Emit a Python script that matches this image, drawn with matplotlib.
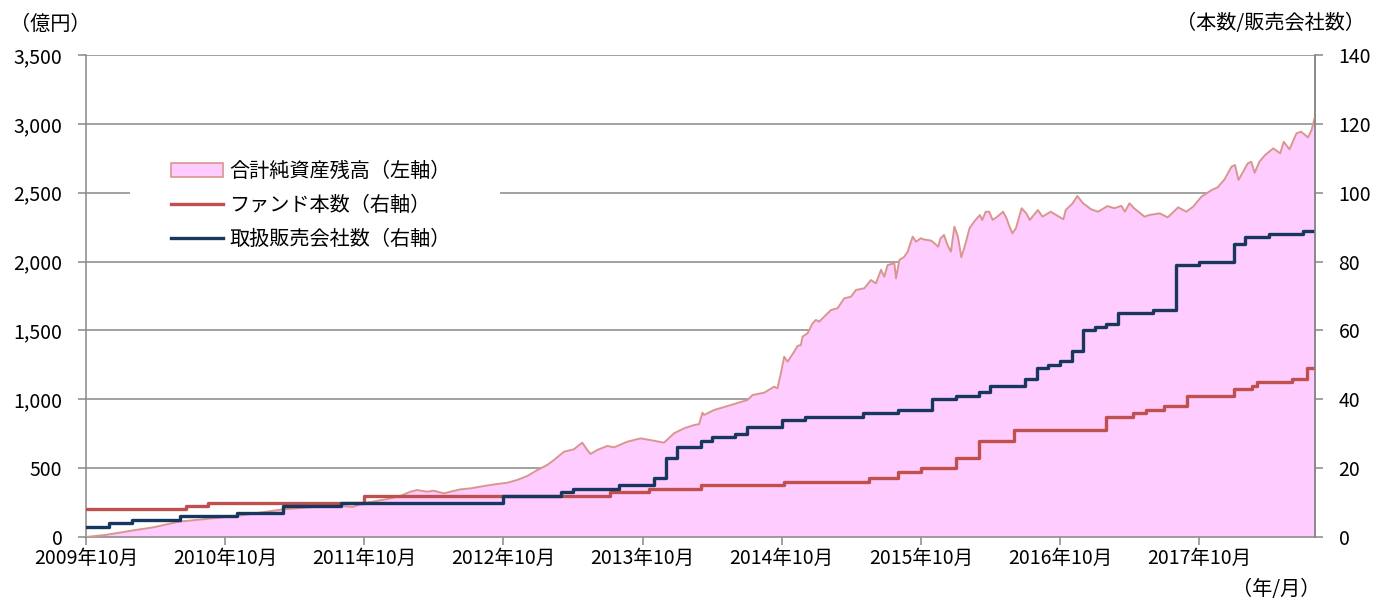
import matplotlib
matplotlib.use("Agg")
import matplotlib.pyplot as plt
from matplotlib.patches import Patch, Rectangle
from matplotlib.lines import Line2D
import numpy as np

plt.rcParams['font.family'] = ['Noto Sans CJK JP', 'DejaVu Sans']

# months counted from 2009年10月
nav_month = [0, 1.7, 4.3, 5.8, 8, 10, 13, 17, 20, 21.8, 23, 23.9, 25.9,
             27.12, 27.98, 28.55, 29.42, 29.99, 30.86, 31.43, 32.3, 33.16, 34.31,
             35.46, 36.33, 37.19, 38.06, 38.92, 39.78, 40.36, 41.22, 42.08, 42.8,
             43.23, 43.52, 44.1, 44.96, 45.54, 46.69, 47.84, 48.99, 49.85, 50.72,
             51.58, 52.45, 52.88, 53.17, 53.31, 54.17, 55.61, 57.05, 57.49, 58.49,
             59.35, 59.64, 59.93, 60.22, 60.51, 61.08, 61.37, 61.66, 61.8, 62.23,
             62.67, 62.95, 63.24, 63.67, 64.25, 64.82, 65.4, 65.98, 66.41, 67.13,
             67.7, 68.13, 68.57, 68.85, 69.14, 69.72, 69.86, 70.15, 70.58, 70.87,
             71.3, 71.59, 72.0, 72.3, 72.9, 73.17, 73.5, 73.7, 74.0, 74.3, 74.6,
             74.9, 75.2, 75.5, 75.9, 76.2, 76.6, 77.1, 77.3, 77.6, 77.9, 78.2,
             78.6, 79.1, 79.4, 79.6, 79.9, 80.2, 80.7, 81.1, 81.4, 82.1, 82.5,
             83.2, 84.3, 84.5, 85.1, 85.5, 86.0, 86.7, 87.3, 88.1, 88.7, 89.3,
             89.6, 90.0, 90.4, 91.3, 91.7, 92.6, 93.3, 93.8, 94.2, 94.9, 95.5,
             96.2, 97.1, 97.6, 98.2, 98.8, 99.1, 99.4, 99.8, 100.2, 100.5, 100.8,
             101.2, 101.7, 102.4, 103.0, 103.3, 103.8, 104.4, 104.8, 105.4, 105.7,
             106.0]
nav_value = [0, 15, 51, 70, 111, 128, 152, 201, 220, 227, 218, 245, 274,
             298, 329, 341, 329, 336, 317, 329, 346, 353, 370,
             385, 394, 414, 443, 486, 523, 559, 619, 637, 685,
             632, 603, 632, 661, 651, 692, 716, 699, 685, 753,
             789, 813, 820, 903, 886, 922, 958, 995, 1031, 1048,
             1091, 1080, 1189, 1309, 1273, 1346, 1387, 1394, 1455, 1479,
             1552, 1576, 1564, 1600, 1648, 1661, 1733, 1745, 1794, 1806,
             1866, 1842, 1940, 1890, 1975, 1987, 1878, 2011, 2035, 2072,
             2181, 2144, 2169, 2160, 2152, 2133, 2108, 2169, 2193, 2120, 2072,
             2253, 2181, 2031, 2144, 2241, 2290, 2338, 2302, 2362, 2362, 2302,
             2326, 2362, 2314, 2265, 2205, 2241, 2387, 2350, 2302, 2374, 2326,
             2362, 2307, 2374, 2423, 2476, 2423, 2379, 2362, 2403, 2387, 2405,
             2362, 2423, 2387, 2326, 2338, 2350, 2321, 2362, 2394, 2362, 2399,
             2471, 2520, 2539, 2597, 2689, 2701, 2592, 2652, 2713, 2725, 2645,
             2725, 2774, 2822, 2786, 2870, 2815, 2931, 2943, 2902, 2955,
             3052]

fund_month = [0, 8.6, 10.5, 24, 45.2, 48.6, 53, 60.2, 67.5, 70, 72, 75, 77, 80, 88,
              90.3, 91.4, 93, 95, 99, 100.6, 101, 104, 105.3, 106]
fund_count = [8, 9, 10, 12, 13, 14, 15, 16, 17, 19, 20, 23, 28, 31, 35,
              36, 37, 38, 41, 43, 44, 45, 46, 49, 49]

dist_month = [0, 2, 4, 8.1, 13, 17, 22, 36, 41, 42, 46, 49, 50, 51, 53, 54, 56, 57,
              60, 62, 67, 70, 73, 75, 77, 78, 81, 82, 83, 84, 85, 86, 87, 88, 89,
              92, 94, 96, 99, 100, 102, 105, 106]
dist_count = [3, 4, 5, 6, 7, 9, 10, 12, 13, 14, 15, 17, 23, 26, 28, 29, 30, 32,
              34, 35, 36, 37, 40, 41, 42, 44, 46, 49, 50, 51, 54, 60, 61, 62, 65,
              66, 79, 80, 85, 87, 88, 89, 89]

tick_month = [0, 12, 24, 36, 48, 60, 72, 84, 96]
tick_label = ['2009年10月', '2010年10月', '2011年10月', '2012年10月', '2013年10月',
              '2014年10月', '2015年10月', '2016年10月', '2017年10月']

legend_labels = ['合計純資産残高（左軸）', 'ファンド本数（右軸）', '取扱販売会社数（右軸）']

pink = '#FFCCFF'
pink_edge = '#D9968F'
red = '#C0504D'
navy = '#17375E'
gray = '#878787'

fig = plt.figure(figsize=(13.74, 5.99), dpi=100)
ax = fig.add_axes([86/1374, 1-537/599, (1315-86)/1374, (537-55)/599])
ax2 = ax.twinx()

ax.fill_between(nav_month, nav_value, 0, color=pink, lw=0, zorder=2)
ax.plot(nav_month, nav_value, color=pink_edge, lw=1.4, zorder=3)

ax2.step(fund_month, fund_count, where='post', color=red, lw=2.4)
ax2.step(dist_month, dist_count, where='post', color=navy, lw=2.4)

ax.set_xlim(0, 106)
ax.set_ylim(0, 3500)
ax2.set_ylim(0, 140)
ax.set_yticks(np.arange(0, 3501, 500))
ax.set_yticklabels([f'{v:,}' for v in range(0, 3501, 500)])
ax2.set_yticks(np.arange(0, 141, 20))
ax.set_xticks(tick_month)
ax.set_xticklabels(tick_label)

ax.set_axisbelow(True)
ax.grid(axis='y', color=gray, lw=1.1)
for a in (ax, ax2):
    for s in a.spines.values():
        s.set_color(gray)
        s.set_linewidth(1.1)
    a.spines['top'].set_visible(False)
ax2.spines['left'].set_visible(False)
ax2.spines['bottom'].set_visible(False)

ax.tick_params(axis='y', length=6, width=1.1, color=gray, pad=11, labelsize=14)
ax.tick_params(axis='x', length=6, width=1.1, color=gray, pad=2, labelsize=14)
ax2.tick_params(axis='y', length=6, width=1.1, color=gray, pad=11, labelsize=14)

# white box behind the legend
ax.add_patch(Rectangle((0.0358, 0.6), 0.301, 0.2, transform=ax.transAxes,
                       facecolor='white', edgecolor='none', zorder=1))

handles = [Patch(facecolor=pink, edgecolor=pink_edge, lw=1.2),
           Line2D([], [], color=red, lw=2.4),
           Line2D([], [], color=navy, lw=2.4)]
ax.legend(handles, legend_labels, loc='upper left', bbox_to_anchor=(0.069, 0.78),
          frameon=False, borderpad=0, borderaxespad=0, fontsize=14.5,
          handlelength=2.6, handletextpad=0.3, labelspacing=0.65)

fig.text(10/1374, 1-24/599, '（億円）', fontsize=14.5, va='center', ha='left')
fig.text(1365/1374, 1-24/599, '（本数/販売会社数）', fontsize=14.5, va='center', ha='right')
fig.text(1320/1374, 1-590/599, '（年/月）', fontsize=14.5, va='center', ha='right')

fig.savefig('out.png', dpi=100)
